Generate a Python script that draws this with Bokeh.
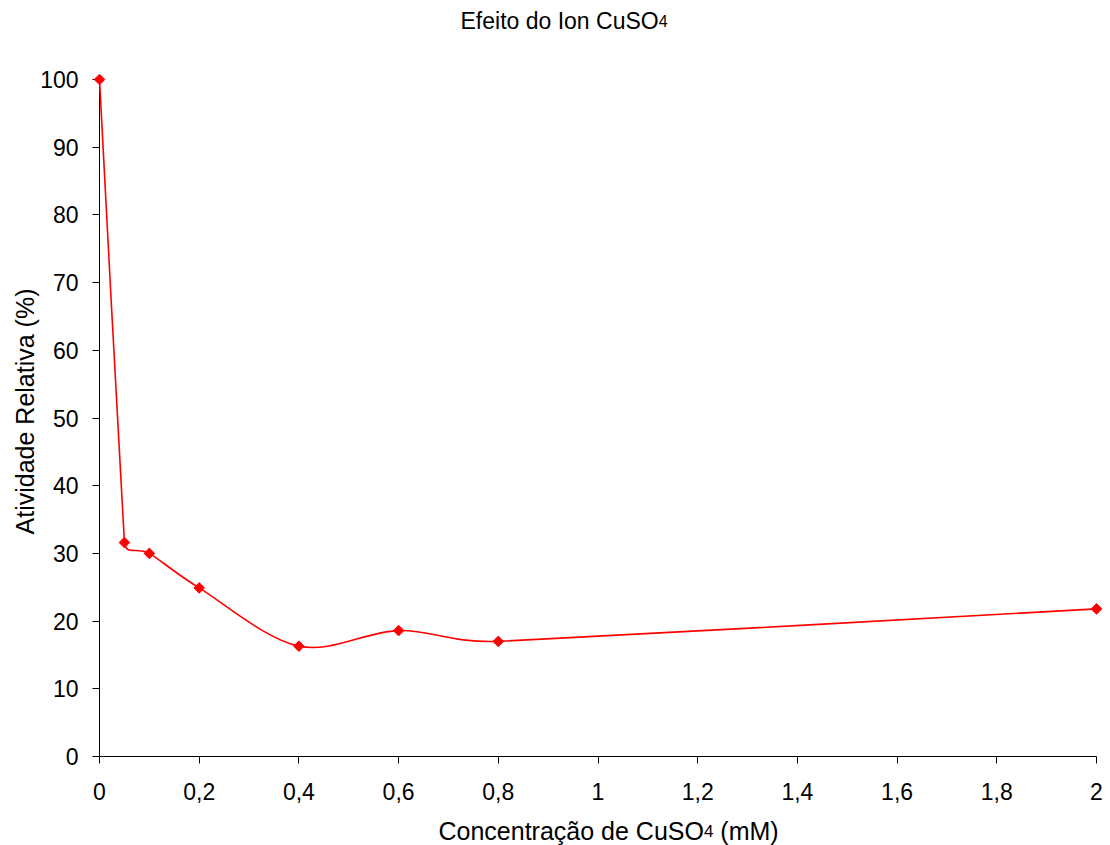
import math
from bokeh.plotting import figure
from bokeh.models import Range1d, FixedTicker, CustomJSTickFormatter
from bokeh.core.properties import value
from bokeh.embed import file_html
from bokeh.resources import INLINE

# ---- data ----
conc = [0, 0.05, 0.1, 0.2, 0.4, 0.6, 0.8, 2.0]
atividade = [100, 31.6, 30.0, 24.9, 16.3, 18.6, 17.0, 21.8]
x_ticks = [0, 0.2, 0.4, 0.6, 0.8, 1.0, 1.2, 1.4, 1.6, 1.8, 2.0]
y_ticks = [0, 10, 20, 30, 40, 50, 60, 70, 80, 90, 100]
title_main, title_sub = "Efeito do Ion CuSO", "4"
xlab_main, xlab_sub, xlab_end = "Concentração de CuSO", "4", "(mM)"
ylab = "Atividade Relativa (%)"

FONT = "Liberation Sans"
RED = "#FF0000"

W, H = 1110, 845
BL, BR, BT, BB = 99, 14, 79, 89
X0, X1, Y0, Y1 = 0, 2, 0, 100
FW, FH = W - BL - BR, H - BT - BB
SX, SY = FW / (X1 - X0), FH / (Y1 - Y0)

p = figure(width=W, height=H, output_backend="svg", toolbar_location=None,
           x_range=Range1d(X0, X1), y_range=Range1d(Y0, Y1),
           min_border_left=BL, min_border_right=BR, min_border_top=BT, min_border_bottom=BB)
p.outline_line_color = None
p.xgrid.visible = False
p.ygrid.visible = False
p.background_fill_color = "white"
p.border_fill_color = "white"

for ax in (p.xaxis[0], p.yaxis[0]):
    ax.axis_line_color = "black"
    ax.axis_line_width = 1
    ax.major_tick_line_color = "black"
    ax.major_tick_out = 7
    ax.major_tick_in = 0
    ax.minor_tick_line_color = None
    ax.major_label_text_font = FONT
    ax.major_label_text_font_size = "23px"
    ax.major_label_text_color = "black"
p.xaxis[0].ticker = FixedTicker(ticks=x_ticks)
p.yaxis[0].ticker = FixedTicker(ticks=y_ticks)
p.xaxis[0].formatter = CustomJSTickFormatter(
    code="const v = Math.round(tick*10)/10; return v.toString().replace('.', ',');")
p.yaxis[0].formatter = CustomJSTickFormatter(code="return Math.round(tick).toString();")
p.xaxis[0].major_label_standoff = 19
p.yaxis[0].major_label_standoff = 14

# ---- smoothed line (Excel-like Bezier through the points, in pixel space) ----
pts = [(x * SX, y * SY) for x, y in zip(conc, atividade)]
def dist(a, b):
    return math.hypot(a[0] - b[0], a[1] - b[1])
def arm(prev, nxt, seg_len, other_len):
    dx, dy = nxt[0] - prev[0], nxt[1] - prev[1]
    d = math.hypot(dx, dy)
    if d == 0:
        return (0.0, 0.0)
    L = d / 6.0
    lim = seg_len / 2.0
    if other_len > 0:
        lim = min(lim, other_len / 2.0)
    L = min(L, lim)
    return (dx / d * L, dy / d * L)

bx0, by0, bx1, by1, cx0, cy0, cx1, cy1 = [], [], [], [], [], [], [], []
n = len(pts)
for i in range(n - 1):
    P1, P2 = pts[i], pts[i + 1]
    P0 = pts[i - 1] if i > 0 else P1
    P3 = pts[i + 2] if i + 2 < n else P2
    d12 = dist(P1, P2)
    a1 = arm(P0, P2, d12, dist(P0, P1))
    a2 = arm(P1, P3, d12, dist(P2, P3))
    bx0.append(P1[0] / SX); by0.append(P1[1] / SY)
    bx1.append(P2[0] / SX); by1.append(P2[1] / SY)
    cx0.append((P1[0] + a1[0]) / SX); cy0.append((P1[1] + a1[1]) / SY)
    cx1.append((P2[0] - a2[0]) / SX); cy1.append((P2[1] - a2[1]) / SY)

p.bezier(x0=bx0, y0=by0, x1=bx1, y1=by1, cx0=cx0, cy0=cy0, cx1=cx1, cy1=cy1,
         line_color=RED, line_width=1.6, level="overlay")
p.scatter(conc, atividade, marker="square", angle=math.pi / 4, size=7.5,
          fill_color=RED, line_color=RED, level="overlay")

# ---- texts with subscripts (text glyphs on the overlay level, not clipped) ----
AW = {'E': 667, 'f': 278, 'e': 556, 'i': 222, 't': 278, 'o': 556, ' ': 278, 'd': 556,
      'I': 278, 'n': 556, 'C': 722, 'u': 556, 'S': 667, 'O': 778, 'c': 500, 'r': 333,
      'a': 556, 'ç': 500, 'ã': 556, '4': 556, '(': 333, 'm': 833, 'M': 833, ')': 333}
def tw(s, size):
    return sum(AW.get(ch, 556) for ch in s) * size / 1000.0

BASE_SHIFT = 8  # measured offset of the rendered alphabetic baseline

def px_to_x(px):  # canvas px -> data x
    return (px - BL) / SX
def py_to_y(py):  # canvas px -> data y
    return (H - BB - py) / SY

def add(text, x, y, size, angle=0.0, align="left", baseline="alphabetic"):
    p.text(x=[x], y=[y], text=[text], text_font=value(FONT), text_font_size=value(f"{size}px"),
           text_color="black", angle=angle, text_align=align, text_baseline=baseline,
           level="overlay")

# title
TS, TSS = 23, 16
tx, tb = 460, 28 - BASE_SHIFT
add(title_main, px_to_x(tx), py_to_y(tb), TS)
add(title_sub, px_to_x(tx + tw(title_main, TS)), py_to_y(tb), TSS)

# x axis label
LS, LSS = 25, 17
lx, lb = 438, 838 - BASE_SHIFT
add(xlab_main, px_to_x(lx), py_to_y(lb), LS)
lx2 = lx + tw(xlab_main, LS)
add(xlab_sub, px_to_x(lx2), py_to_y(lb), LSS)
add(xlab_end, px_to_x(lx2 + tw(xlab_sub, LSS) + tw(" ", LS)), py_to_y(lb), LS)

# y axis label
add(ylab, px_to_x(24), py_to_y(411), LS, angle=math.pi / 2, align="center", baseline="middle")

open("out.html", "w").write(file_html(p, INLINE))
